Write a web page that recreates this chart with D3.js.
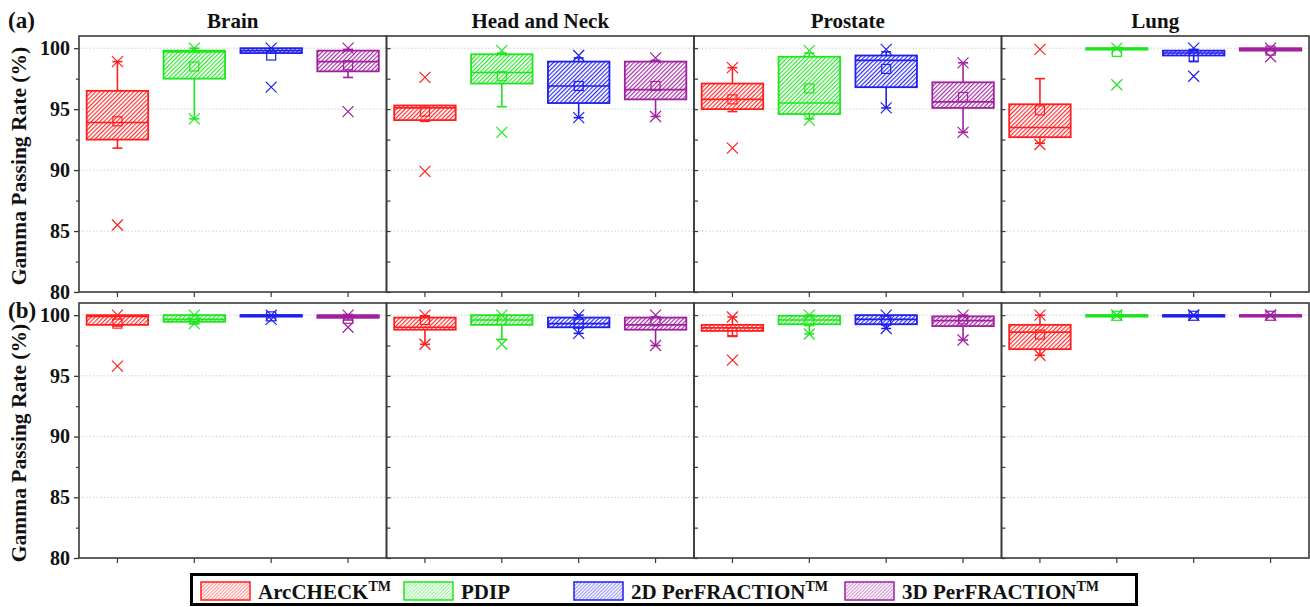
<!DOCTYPE html>
<html>
<head>
<meta charset="utf-8">
<script src="https://cdn.jsdelivr.net/npm/d3@7"></script>
<style>
  html, body { margin: 0; padding: 0; background: #fff; }
  svg { display: block; font-family: "Liberation Serif", "Times New Roman", serif; }
</style>
</head>
<body>
<svg id="chart" width="1310" height="607"></svg>
<script>
// Treatment sites (columns) and QA devices (boxes within each column)
const sites = ["Brain", "Head and Neck", "Prostate", "Lung"];
const devices = ["ArcCHECK", "PDIP", "2D PerFRACTION", "3D PerFRACTION"];
const deviceColors = ["#ff1f1f", "#1ee61e", "#1f1fee", "#a0209f"];
const legendLabels = [["ArcCHECK", "TM"], ["PDIP", ""], ["2D PerFRACTION", "TM"], ["3D PerFRACTION", "TM"]];
const majorTicks = [80, 85, 90, 95, 100];
const minorTicks = [82.5, 87.5, 92.5, 97.5];

// Box statistics, one row per site × device (site-major order):
// [q1, median, q3, mean, whiskerLow, whiskerHigh, crossLow, crossHigh]
const statsA = [
  [92.5, 93.9, 96.5, 94.0, 91.8, 98.9, 85.5, 98.9],
  [97.5, 99.7, 99.8, 98.5, 94.2, 100, 94.2, 100],
  [99.6, 99.8, 100, 99.4, 99.6, 100, 96.8, 100],
  [98.1, 98.9, 99.8, 98.6, 97.6, 99.9, 94.8, 100],

  [94.1, 95.1, 95.3, 94.8, 94.0, 95.3, 89.9, 97.6],
  [97.1, 98.0, 99.5, 97.7, 95.2, 99.6, 93.1, 99.8],
  [95.5, 96.9, 98.9, 96.9, 94.3, 99.2, 94.3, 99.4],
  [95.8, 96.6, 98.9, 96.9, 94.4, 99.0, 94.4, 99.2],

  [95.0, 95.8, 97.1, 95.8, 94.8, 98.4, 91.8, 98.4],
  [94.6, 95.5, 99.3, 96.7, 94.2, 99.6, 94.1, 99.8],
  [96.8, 99.0, 99.4, 98.3, 95.1, 99.7, 95.1, 99.9],
  [95.1, 95.6, 97.2, 96.0, 93.1, 98.8, 93.1, 98.8],

  [92.7, 93.5, 95.4, 94.9, 92.2, 97.5, 92.1, 99.9],
  [99.9, 100, 100, 99.7, 99.9, 100, 97.0, 100],
  [99.4, 99.6, 99.8, 99.3, 98.9, 99.9, 97.7, 100],
  [99.8, 99.9, 100, 99.8, 99.8, 100, 99.3, 100]
];

const statsB = [
  [99.2, 99.9, 100, 99.3, 99.1, 100, 95.8, 100],
  [99.45, 99.65, 100, 99.65, 99.3, 100, 99.3, 100],
  [99.95, 100, 100, 99.9, 99.9, 100, 99.65, 100],
  [99.78, 99.9, 100, 99.7, 99.6, 100, 99.0, 100],

  [98.8, 99.0, 99.8, 99.6, 97.6, 99.9, 97.6, 100],
  [99.2, 99.6, 100, 99.6, 98.0, 100, 97.6, 100],
  [99.0, 99.3, 99.8, 99.3, 98.5, 100, 98.5, 100],
  [98.8, 99.2, 99.8, 99.5, 97.5, 99.8, 97.5, 100],

  [98.7, 98.95, 99.2, 98.6, 98.3, 99.85, 96.3, 99.85],
  [99.25, 99.6, 99.95, 99.5, 98.45, 100, 98.45, 100],
  [99.25, 99.65, 100, 99.55, 98.9, 100, 98.9, 100],
  [99.1, 99.55, 99.9, 99.65, 97.95, 99.95, 97.95, 100],

  [97.2, 98.6, 99.2, 98.4, 96.7, 100, 96.7, 100],
  [99.97, 100, 100, 99.95, 100, 100, 100, 100],
  [99.97, 100, 100, 99.95, 100, 100, 100, 100],
  [99.97, 100, 100, 99.95, 100, 100, 100, 100]
];

const svg = d3.select("#chart");
const defs = svg.append("defs");

// Diagonal hatch fill for each device colour (thin rotated stripes)
deviceColors.forEach((c, i) => {
  const variants = [
    { name: "hatch", size: 3, opacity: 0.95 },
    { name: "hatchLight", size: 2.5, opacity: 0.45 }
  ];
  variants.forEach(v => {
    const p = defs.append("pattern")
      .attr("id", v.name + i)
      .attr("patternUnits", "userSpaceOnUse")
      .attr("width", v.size).attr("height", v.size)
      .attr("patternTransform", "rotate(45)");
    p.append("rect")
      .attr("x", 0).attr("y", 0)
      .attr("width", v.size).attr("height", v.size)
      .style("fill", "#ffffff");
    p.append("rect")
      .attr("x", 0).attr("y", 0)
      .attr("width", 1.15).attr("height", v.size)
      .style("fill", c).style("fill-opacity", v.opacity);
  });
});

const plotLeft = 79, plotRight = 1309;
const siteScale = d3.scaleBand(sites, [plotLeft, plotRight]);

const panels = [
  { key: "(a)", stats: statsA, y: d3.scaleLinear([80, 101], [292, 36]), labelY: 28, titleY: 166 },
  { key: "(b)", stats: statsB, y: d3.scaleLinear([80, 101], [558, 303]), labelY: 318, titleY: 443 }
];

const frameColor = "#3a3a3a";

panels.forEach((panel, pi) => {
  const y = panel.y;
  const g = svg.append("g");
  const [yBottom, yTop] = y.range();

  // dotted gridlines
  g.append("g").selectAll("line")
    .data(majorTicks.filter(v => v > 80))
    .join("line")
    .attr("x1", plotLeft).attr("x2", plotRight)
    .attr("y1", d => y(d)).attr("y2", d => y(d))
    .attr("stroke", "#cfcfcf").attr("stroke-width", 1)
    .attr("stroke-dasharray", "1.5,2");

  // left value axis
  const axis = d3.axisLeft(y).tickValues(majorTicks).tickSize(5).tickPadding(4).tickFormat(d3.format("d"));
  const ax = g.append("g").attr("transform", `translate(${plotLeft},0)`).call(axis);
  ax.select(".domain").remove();
  ax.selectAll(".tick line").attr("stroke", frameColor).attr("stroke-width", 1.3);
  ax.selectAll(".tick text")
    .attr("font-family", "Liberation Serif, Times New Roman, serif")
    .attr("font-weight", "bold").attr("font-size", 20).attr("fill", "#111");
  const axMinor = d3.axisLeft(y).tickValues(minorTicks).tickSize(3).tickFormat("");
  const axm = g.append("g").attr("transform", `translate(${plotLeft},0)`).call(axMinor);
  axm.select(".domain").remove();
  axm.selectAll(".tick line").attr("stroke", frameColor).attr("stroke-width", 1.2);

  sites.forEach((site, si) => {
    const x0 = siteScale(site);
    const x1 = x0 + siteScale.bandwidth();
    const xb = d3.scaleBand(devices, [x0, x1]).paddingInner(0.2).paddingOuter(0.1);
    const bw = xb.bandwidth();

    // inward ticks on inner panel borders
    if (si > 0) {
      const inner = d3.axisRight(y).tickValues(majorTicks.concat(minorTicks)).tickSize(4).tickFormat("");
      const ai = g.append("g").attr("transform", `translate(${x0},0)`).call(inner);
      ai.select(".domain").remove();
      ai.selectAll(".tick line").attr("stroke", frameColor).attr("stroke-width", 1.2);
    }

    // category ticks below the panel
    const xa = d3.axisBottom(xb).tickSize(5).tickFormat("");
    const xag = g.append("g").attr("transform", `translate(0,${yBottom})`).call(xa);
    xag.select(".domain").remove();
    xag.selectAll(".tick line").attr("stroke", frameColor).attr("stroke-width", 1.2);

    devices.forEach((dev, di) => {
      const [q1, med, q3, mean, wLo, wHi, cLo, cHi] = panel.stats[si * 4 + di];
      const color = deviceColors[di];
      const cx = xb(dev) + bw / 2;
      const bg = g.append("g");

      // whiskers with caps
      [[q3, wHi], [q1, wLo]].forEach(([from, to]) => {
        if (Math.abs(y(from) - y(to)) < 0.5) return;
        bg.append("line").attr("x1", cx).attr("x2", cx)
          .attr("y1", y(from)).attr("y2", y(to))
          .attr("stroke", color).attr("stroke-width", 1.6);
        bg.append("line").attr("x1", cx - 5).attr("x2", cx + 5)
          .attr("y1", y(to)).attr("y2", y(to))
          .attr("stroke", color).attr("stroke-width", 1.6);
      });

      // interquartile box
      const boxH = Math.max(y(q1) - y(q3), 1.5);
      bg.append("rect")
        .attr("x", xb(dev)).attr("y", y(q3))
        .attr("width", bw).attr("height", boxH)
        .style("fill", `url(#hatch${di})`)
        .attr("stroke", color).attr("stroke-width", 1.8);

      // median
      bg.append("line").attr("x1", xb(dev)).attr("x2", xb(dev) + bw)
        .attr("y1", y(med)).attr("y2", y(med))
        .attr("stroke", color).attr("stroke-width", 1.6);

      // mean (open square)
      bg.append("rect")
        .attr("x", cx - 4.5).attr("y", y(mean) - 4.5)
        .attr("width", 9).attr("height", 9)
        .attr("fill", "none").attr("stroke", color).attr("stroke-width", 1.2);

      // extreme markers (×)
      [cLo, cHi].forEach(v => {
        const yy = y(v);
        bg.append("path")
          .attr("d", `M${cx - 5.5},${yy - 5.5}L${cx + 5.5},${yy + 5.5}M${cx - 5.5},${yy + 5.5}L${cx + 5.5},${yy - 5.5}`)
          .attr("stroke", color).attr("stroke-width", 1.2).attr("fill", "none");
      });
    });

    // site title over the top panel
    if (pi === 0) {
      svg.append("text")
        .attr("x", x0 + siteScale.bandwidth() / 2).attr("y", 28)
        .attr("text-anchor", "middle")
        .attr("font-weight", "bold").attr("font-size", 21).attr("fill", "#111")
        .text(site);
    }

    // panel frame
    g.append("rect")
      .attr("x", x0).attr("y", yTop)
      .attr("width", siteScale.bandwidth()).attr("height", yBottom - yTop)
      .attr("fill", "none").attr("stroke", frameColor).attr("stroke-width", 1.6);
  });

  // value axis title
  svg.append("text")
    .attr("transform", `translate(26,${panel.titleY}) rotate(-90)`)
    .attr("text-anchor", "middle")
    .attr("font-weight", "bold").attr("font-size", 21.5).attr("fill", "#111")
    .text("Gamma Passing Rate (%)");

  // panel tag
  svg.append("text")
    .attr("x", 8).attr("y", panel.labelY)
    .attr("font-weight", "bold").attr("font-size", 23).attr("fill", "#111")
    .text(panel.key);
});

// legend
const legendG = svg.append("g");
legendG.append("rect")
  .attr("x", 191.5).attr("y", 574.5).attr("width", 945).attr("height", 30)
  .attr("fill", "#fff").attr("stroke", "#000").attr("stroke-width", 3);
const legendX = [201, 404, 574, 845];
legendLabels.forEach(([main, sup], i) => {
  const lx = legendX[i];
  legendG.append("rect")
    .attr("x", lx).attr("y", 582).attr("width", 49).attr("height", 18)
    .style("fill", `url(#hatchLight${i})`)
    .attr("stroke", deviceColors[i]).attr("stroke-width", 1.5);
  const t = legendG.append("text")
    .attr("x", lx + 57).attr("y", 599)
    .attr("font-weight", "bold").attr("font-size", 21).attr("fill", "#111");
  t.append("tspan").text(main);
  if (sup) t.append("tspan").attr("dy", -8).attr("font-size", 14).text(sup);
});
</script>
</body>
</html>
